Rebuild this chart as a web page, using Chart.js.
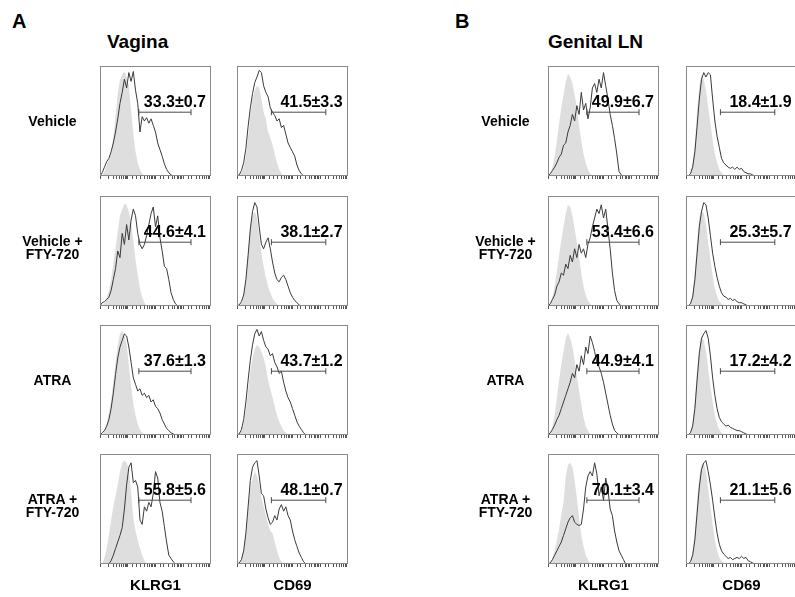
<!DOCTYPE html>
<html><head><meta charset="utf-8">
<script src="https://cdn.jsdelivr.net/npm/chart.js@4.4.0/dist/chart.umd.min.js"></script>
<style>
html,body{margin:0;padding:0;background:#fff;}
body{width:795px;height:597px;position:relative;overflow:hidden;font-family:"Liberation Sans",Arial,sans-serif;font-weight:bold;color:#000;}
.t{position:absolute;white-space:nowrap;}
.row{position:absolute;display:flex;align-items:center;justify-content:center;text-align:center;font-size:14px;line-height:13px;}
canvas{position:absolute;}
</style></head><body>
<script>
// ---------- data ----------
const CHANNEL_STEP = 2;               // histogram channels 0,2,4,...,100
const panelLetters = ['A', 'B'];
const panelTitles = ['Vagina', 'Genital LN'];
const rowLabels = [['Vehicle'], ['Vehicle +', 'FTY-720'], ['ATRA'], ['ATRA +', 'FTY-720']];
const markerNames = ['KLRG1', 'CD69', 'KLRG1', 'CD69'];
const gateKLRG1 = [35, 82];
const gateCD69 = [31, 80];
const gateLevel = 58;
const logTickMin = 1;
const logTickMax = 10000;

const vagKlrg1Pct = ['33.3±0.7', '44.6±4.1', '37.6±1.3', '55.8±5.6'];
const vagCd69Pct  = ['41.5±3.3', '38.1±2.7', '43.7±1.2', '48.1±0.7'];
const glnKlrg1Pct = ['49.9±6.7', '53.4±6.6', '44.9±4.1', '70.1±3.4'];
const glnCd69Pct  = ['18.4±1.9', '25.3±5.7', '17.2±4.2', '21.1±5.6'];

// stained (black line) and isotype (grey fill) histograms, % of max, trailing zeros omitted
const vagVehKlrg1      = [0,3,8,13,16,22,30,40,52,66,76,88,80,94,86,95,78,66,40,54,50,53,48,52,46,40,30,24,18,11,6,3,1,0];
const vagVehKlrg1Iso   = [0,0,4,10,15,20,35,55,75,88,92,95,90,82,60,38,22,12,6,2,0];
const vagVehCd69       = [0,1,5,12,25,45,62,75,85,90,96,94,82,76,72,62,58,55,50,52,44,46,38,30,26,22,18,10,5,2,0];
const vagVehCd69Iso    = [0,0,3,8,18,35,55,70,78,82,80,70,58,52,40,35,28,20,12,6,2,0];
const vagFtyKlrg1      = [0,3,4,6,8,14,24,34,50,44,66,56,74,60,78,88,82,66,56,52,56,64,74,84,90,72,82,62,50,36,34,24,12,6,2,0];
const vagFtyKlrg1Iso   = [0,0,3,8,14,24,38,52,68,82,88,93,92,85,76,60,42,28,16,8,3,0];
const vagFtyCd69       = [0,1,4,10,24,46,70,86,94,90,72,56,52,58,62,52,40,30,24,22,26,28,24,18,12,8,5,3,1,0];
const vagFtyCd69Iso    = [0,0,3,10,25,50,72,82,86,80,64,48,36,26,18,12,7,4,2,0];
const vagAtraKlrg1     = [0,2,4,8,14,24,38,55,70,80,86,92,90,80,66,52,46,40,42,36,38,34,36,30,32,26,24,20,14,10,6,4,2,1,0];
const vagAtraKlrg1Iso  = [0,0,4,10,20,32,48,66,82,92,95,90,82,64,44,28,18,10,5,2,0];
const vagAtraCd69      = [0,1,5,14,30,50,68,82,92,96,90,94,86,80,78,72,74,66,62,56,58,48,40,34,30,24,18,12,8,5,2,0];
const vagAtraCd69Iso   = [0,0,4,10,22,40,58,70,78,82,80,76,70,62,50,42,34,26,18,12,8,4,2,0];
const vagAtraFtyKlrg1  = [0,0,0,0,0,3,8,14,20,26,33,50,72,88,92,74,76,70,40,36,52,48,56,52,64,84,78,56,48,34,20,8,5,2,0];
const vagAtraFtyKlrg1Iso = [0,0,6,14,26,40,52,62,72,84,92,94,92,86,66,42,30,22,14,8,3,0];
const vagAtraFtyCd69   = [0,1,4,12,28,52,76,88,92,94,80,64,62,50,42,36,38,44,40,50,54,48,52,44,40,30,22,16,10,6,2,0];
const vagAtraFtyCd69Iso = [0,0,4,12,28,50,68,78,84,80,72,60,52,44,36,30,28,20,12,6,2,0];

const glnVehKlrg1      = [0,2,5,8,12,17,20,28,30,40,46,56,50,64,56,76,60,66,52,62,80,84,76,88,80,94,82,70,56,46,34,20,4,1,0];
const glnVehKlrg1Iso   = [0,2,8,18,32,48,62,74,86,93,90,84,74,62,46,32,20,12,6,2,0];
const glnVehCd69       = [0,0,2,8,22,45,70,88,94,90,94,92,70,50,36,26,16,12,10,8,7,8,6,8,6,7,4,3,2,2,1,0];
const glnVehCd69Iso    = [0,0,3,12,30,60,82,92,88,78,62,48,32,20,12,6,3,1,0];
const glnFtyKlrg1      = [0,2,6,10,18,22,30,28,38,34,46,40,52,44,56,48,52,44,56,62,72,80,88,84,92,80,88,70,52,30,14,5,2,0];
const glnFtyKlrg1Iso   = [0,2,8,18,32,46,60,72,84,92,90,82,70,58,44,30,18,10,5,2,0];
const glnFtyCd69       = [0,0,2,8,24,48,72,86,94,92,80,64,48,36,26,18,12,9,8,6,7,5,6,4,3,3,2,1,0];
const glnFtyCd69Iso    = [0,0,3,12,32,60,80,88,84,74,58,42,28,16,9,4,2,0];
const glnAtraKlrg1     = [0,2,5,9,14,18,24,30,36,42,48,56,52,64,58,72,64,80,74,90,84,76,66,62,56,48,38,28,18,10,4,2,0];
const glnAtraKlrg1Iso  = [0,2,8,18,34,50,64,76,88,93,88,80,68,54,40,28,16,8,4,1,0];
const glnAtraCd69      = [0,0,2,8,24,50,74,88,92,95,88,72,52,36,24,16,12,10,8,9,7,6,5,4,4,3,2,1,0];
const glnAtraCd69Iso   = [0,0,3,12,32,60,80,90,86,76,60,44,30,18,10,5,2,0];
const glnAtraFtyKlrg1  = [0,1,4,8,12,16,20,26,32,38,42,44,38,36,35,36,50,70,80,84,80,92,82,62,70,58,78,68,50,44,30,20,12,8,4,0];
const glnAtraFtyKlrg1Iso = [0,0,5,12,22,32,45,56,80,90,92,88,76,60,42,26,16,8,4,1,0];
const glnAtraFtyCd69   = [0,0,2,8,22,46,70,86,92,94,84,72,58,42,28,18,12,9,7,5,6,4,5,6,5,7,5,6,3,2,1,0];
const glnAtraFtyCd69Iso = [0,0,3,12,30,58,80,90,92,84,68,52,36,22,12,6,3,1,0];

// ---------- assembly ----------
const columns = [
  {stain:[vagVehKlrg1, vagFtyKlrg1, vagAtraKlrg1, vagAtraFtyKlrg1], iso:[vagVehKlrg1Iso, vagFtyKlrg1Iso, vagAtraKlrg1Iso, vagAtraFtyKlrg1Iso], pct:vagKlrg1Pct, gate:gateKLRG1, labelShift:5},
  {stain:[vagVehCd69, vagFtyCd69, vagAtraCd69, vagAtraFtyCd69], iso:[vagVehCd69Iso, vagFtyCd69Iso, vagAtraCd69Iso, vagAtraFtyCd69Iso], pct:vagCd69Pct, gate:gateCD69, labelShift:9},
  {stain:[glnVehKlrg1, glnFtyKlrg1, glnAtraKlrg1, glnAtraFtyKlrg1], iso:[glnVehKlrg1Iso, glnFtyKlrg1Iso, glnAtraKlrg1Iso, glnAtraFtyKlrg1Iso], pct:glnKlrg1Pct, gate:gateKLRG1, labelShift:5},
  {stain:[glnVehCd69, glnFtyCd69, glnAtraCd69, glnAtraFtyCd69], iso:[glnVehCd69Iso, glnFtyCd69Iso, glnAtraCd69Iso, glnAtraFtyCd69Iso], pct:glnCd69Pct, gate:gateCD69, labelShift:9}
];

const colX = [100, 237, 548, 686];
const rowY = [66, 196, 325, 454];
const W = 111, H = 110, TICK = 3;
const GATE_FONT = 16;

function toPoints(arr) {
  const pts = [];
  for (let i = 0; i * CHANNEL_STEP <= 100; i++) pts.push({x: i * CHANNEL_STEP, y: i < arr.length ? arr[i] : 0});
  return pts;
}
function addText(txt, left, top, size, extra) {
  const d = document.createElement('div');
  d.className = 't';
  d.textContent = txt;
  d.style.left = left + 'px';
  d.style.top = top + 'px';
  d.style.fontSize = size + 'px';
  d.style.lineHeight = size + 'px';
  if (extra) Object.assign(d.style, extra);
  document.body.appendChild(d);
  return d;
}

const boxPlugin = {
  id: 'box',
  afterDraw(c) {
    const a = c.chartArea, ctx = c.ctx;
    ctx.save();
    ctx.strokeStyle = '#8a8a8a';
    ctx.lineWidth = 1;
    ctx.strokeRect(Math.round(a.left) + 0.5, Math.round(a.top) + 0.5, Math.round(a.right - a.left) - 1, Math.round(a.bottom - a.top) - 1);
    ctx.restore();
  }
};

columns.forEach((col, c) => {
  for (let r = 0; r < 4; r++) {
    const cv = document.createElement('canvas');
    cv.width = W; cv.height = H + TICK;
    cv.style.left = colX[c] + 'px';
    cv.style.top = rowY[r] + 'px';
    cv.style.width = W + 'px';
    cv.style.height = (H + TICK) + 'px';
    document.body.appendChild(cv);
    const chart = new Chart(cv, {
      type: 'line',
      data: {
        datasets: [
          {data: toPoints(col.stain[r]), borderColor: '#3a3a3a', borderWidth: 1, fill: false, pointRadius: 0, tension: 0, order: 1},
          {data: [{x: col.gate[0], y: gateLevel}, {x: col.gate[1], y: gateLevel}], borderColor: '#4a4a4a', borderWidth: 1,
           pointStyle: 'line', pointRotation: 90, pointRadius: 3, pointBorderWidth: 1, pointBorderColor: '#4a4a4a', fill: false, order: 0},
          {data: toPoints(col.iso[r]), borderWidth: 0, borderColor: 'rgba(0,0,0,0)', backgroundColor: '#dedede', fill: 'origin', pointRadius: 0, tension: 0, order: 3}
        ]
      },
      options: {
        responsive: false, animation: false, devicePixelRatio: 1,
        layout: {padding: 0, autoPadding: false},
        plugins: {legend: {display: false}, tooltip: {enabled: false}},
        scales: {
          x: {type: 'linear', min: 0, max: 100, display: false},
          xt: {type: 'logarithmic', position: 'bottom', min: logTickMin, max: logTickMax, display: true,
               ticks: {display: false},
               border: {display: false},
               grid: {drawOnChartArea: false, drawTicks: true, tickLength: TICK, color: '#555', lineWidth: 1}},
          y: {min: 0, max: 100, display: false}
        }
      },
      plugins: [boxPlugin]
    });
    const px = colX[c] + chart.scales.x.getPixelForValue(col.gate[0]) + col.labelShift;
    const base = rowY[r] + chart.scales.y.getPixelForValue(gateLevel) - 5;
    addText(col.pct[r], px, Math.round(base - 0.8465 * GATE_FONT), GATE_FONT);
  }
});

// titles
addText(panelLetters[0], 12, 11, 20);
addText(panelLetters[1], 455, 11, 20);
addText(panelTitles[0], 107, 32, 19);
addText(panelTitles[1], 548, 32, 19);

// row labels
[52.5, 505.5].forEach(cx => {
  rowLabels.forEach((lines, r) => {
    const d = document.createElement('div');
    d.className = 'row';
    d.style.left = (cx - 60) + 'px';
    d.style.width = '120px';
    d.style.top = (rowY[r] - (lines.length > 1 ? 3 : 0)) + 'px';
    d.style.height = H + 'px';
    const inner = document.createElement('div');
    lines.forEach((ln, i) => {
      if (i) inner.appendChild(document.createElement('br'));
      inner.appendChild(document.createTextNode(ln));
    });
    d.appendChild(inner);
    document.body.appendChild(d);
  });
});

// marker labels under columns
markerNames.forEach((m, c) => {
  addText(m, colX[c], 577, 15, {width: W + 'px', textAlign: 'center'});
});
</script>
</body></html>
